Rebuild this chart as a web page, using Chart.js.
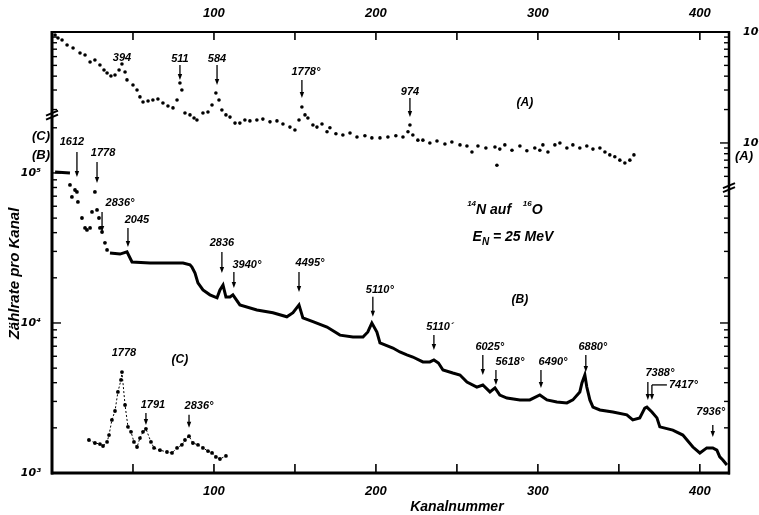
<!DOCTYPE html>
<html>
<head>
<meta charset="utf-8">
<title>14N auf 16O</title>
<script src="https://cdn.jsdelivr.net/npm/chart.js@4.4.1/dist/chart.umd.min.js"></script>
<style>
  html, body { margin: 0; padding: 0; background: #fff; }
  #myChart { display: block; }
</style>
</head>
<body>
<canvas id="myChart" width="759" height="515"></canvas>
<script>
// Spektrum A (rechte Skala oben), [Kanal, Zaehlrate]
var spektrumA = [
  [1.9,940],[3.7,883],[6.2,847],[9.3,764],[13,718],[17.3,647],[20.4,621],[23.5,537],[26.5,560],[29.6,504],
  [32.1,455],[34,427],[36.4,401],[38.9,410],[41.4,455],[43.2,515],[45.1,436],[46.3,370],[50,333],[52.5,300],
  [54.3,260],[56.2,234],[59.3,239],[62.3,244],[65.4,249],[68.5,229],[71.6,215],[74.7,207],[77.2,244],[79,347],
  [80.2,300],[82.1,186],[85.2,179],[87.7,168],[89.5,161],[93.2,186],[96.3,190],[98.8,220],[101.2,282],[103.1,244],
  [104.9,198],[107.4,179],[109.9,171],[113,151],[116,151],[119.1,161],[122.2,158],[126.5,161],[130.2,164],[134.6,155],
  [138.9,158],[142.6,148],[146.9,139],[150,131],[152.5,161],[154.3,211],[156.2,179],[158,168],[161.1,145],[163.6,139],
  [166.7,148],[169.8,126],[171.6,137],[175.3,121],[179.6,118],[184,123],[188.3,113],[193.2,116],[197.5,111],[202.5,111],
  [207.4,113],[212.3,116],[216.7,113],[219.8,126],[221,145],[222.8,118],[225.9,106],[229,106],[233.3,100],[237.7,104],
  [242.6,98],[246.9,102],[251.9,96],[256.2,94],[259.3,83],[263,94],[267.9,90],[273.5,92],[274.7,63],[276.5,88],
  [279.6,96],[284,86],[288.9,94],[293.2,85],[298.1,90],[301.2,86],[303.1,96],[306.2,83],[310.5,96],[313.6,100],
  [317.9,90],[321.6,96],[325.9,90],[330.2,94],[334,88],[338.3,90],[341.4,83],[344.4,78],[347.5,75],[350.6,70],
  [353.7,66],[356.8,70],[359.3,78]
];

// Spektrum B (linke Skala), Anfang oberhalb 10^5
var spektrumBAnfang = [[1.9,101600],[11.1,100000]];

// Spektrum B, Einzelpunkte am Anfang
var spektrumBStreu = [
  [11.1,83200],[12.3,69200],[14.2,77000],[15.4,74700],[16,64100],[18.5,50100],[20.4,43000],[21.6,41700],
  [23.5,43000],[24.7,55000],[26.5,74700],[27.8,56700],[29,50100],[29.6,43000],[30.9,40400],[32.7,34200],[34,30700]
];

// Spektrum B, durchgehende Kurve
var spektrumB = [
  [35.8,29300],[42,28800],[46.3,29800],[49.4,25500],[60.5,25100],[71,25100],[80.9,25100],[85.2,24400],[86.4,23600],
  [88.3,21500],[90.1,18500],[93.2,16600],[97.5,15400],[101.9,14700],[103.7,16600],[105.6,17900],[107.4,14900],
  [109.9,14900],[111.7,15400],[116,13200],[126.5,12200],[136.4,11700],[145,11000],[148.8,11700],[152.5,13200],
  [154.9,10800],[161.1,10200],[169.8,9400],[177.8,8300],[185.8,8070],[192,8070],[195,8710],[197.5,10000],
  [200.6,8710],[202.5,7360],[210.5,6810],[214.8,6410],[219.1,6120],[222.8,5930],[229,5500],[233.3,5500],
  [235.8,5670],[238.6,5410],[241.4,4860],[247.5,4640],[251.9,4500],[256.2,4040],[262.3,3740],[266,3860],
  [270.4,3470],[273.5,3690],[276.5,3310],[280.9,3160],[288.9,3070],[295,3070],[301.2,3310],[305.6,3070],
  [311.7,2970],[317.9,2930],[321.6,3070],[325.9,3470],[327.2,3980],[329,4500],[330.2,3740],[332.1,3070],
  [334,2750],[338.3,2630],[346.3,2550],[354.9,2440],[358.6,2260],[362.9,2330],[366,2710],[367.3,2750],
  [370.4,2550],[373.5,2330],[375.3,2030],[383.3,1930],[389.5,1790],[395.7,1490],[400,1360],[404.3,1470],
  [408,1470],[410.5,1420],[412.3,1280],[414.2,1220],[416.7,1130]
];

// Spektrum C (linke Skala)
var spektrumC = [
  [22.8,1660],[26.5,1585],[29.6,1560],[31.5,1514],[34,1610],[35.2,1790],[37,2260],[38.9,2590],[40.7,3470],
  [42.6,4170],[43.2,4710],[45.1,2840],[46.9,2030],[48.8,1880],[50.6,1610],[52.5,1490],[54.3,1710],[56.2,1880],
  [58,1970],[61.1,1610],[63,1470],[66.7,1420],[71,1380],[74.1,1360],[77.2,1470],[80.2,1540],[82.1,1660],
  [84.6,1760],[87,1585],[90.1,1540],[93.2,1470],[96.3,1400],[98.8,1360],[101.2,1280],[103.7,1240],[107.4,1300]
];

// Achsen
var kanalLabels = [100, 200, 300, 400];
var kanalStriche = [50, 100, 150, 200, 250, 300, 350, 400];
var dekadenBC = [1000, 10000, 100000];
var dekadenA = [100, 1000];
var hochZahl = {2: '\u00b2', 3: '\u00b3', 4: '\u2074', 5: '\u2075'};

// Peak-Beschriftungen: Kanal, Zaehlrate an der Pfeilspitze
var markenA = [
  {t: '394', k: 43.2, w: 515, len: 0, dx: 0, dy: 6},
  {t: '511', k: 79, w: 370, len: 15, dx: 0, dy: 6},
  {t: '584', k: 101.9, w: 333, len: 20, dx: 0, dy: 6},
  {t: '1778\u00b0', k: 154.3, w: 254, len: 18, dx: 4, dy: 8},
  {t: '974', k: 221, w: 171, len: 19, dx: 0, dy: 6}
];
var markenB = [
  {t: '1612', k: 15.4, w: 94000, len: 25, dx: -5, dy: 10},
  {t: '1778', k: 27.8, w: 85800, len: 21, dx: 6, dy: 9},
  {t: '2836\u00b0', k: 30.9, w: 40400, len: 20, dx: 18, dy: 9},
  {t: '2045', k: 46.9, w: 32100, len: 19, dx: 9, dy: 8},
  {t: '2836', k: 104.9, w: 21500, len: 21, dx: 0, dy: 9},
  {t: '3940\u00b0', k: 112.3, w: 17100, len: 16, dx: 13, dy: 7},
  {t: '4495\u00b0', k: 152.5, w: 16100, len: 20, dx: 11, dy: 9},
  {t: '5110\u00b0', k: 198.1, w: 11000, len: 20, dx: 7, dy: 7},
  {t: '5110\u00b4', k: 235.8, w: 6610, len: 15, dx: 6, dy: 8},
  {t: '6025\u00b0', k: 266, w: 4500, len: 20, dx: 7, dy: 8},
  {t: '5618\u00b0', k: 274.1, w: 3860, len: 15, dx: 14, dy: 8},
  {t: '6490\u00b0', k: 301.9, w: 3690, len: 18, dx: 12, dy: 8},
  {t: '6880\u00b0', k: 329.6, w: 4710, len: 17, dx: 7, dy: 8},
  {t: '7388\u00b0', k: 367.9, w: 3070, len: 18, dx: 12, dy: 9},
  {t: '', k: 370.4, w: 3070, len: 15, dx: 0, dy: 0},
  {t: '7936\u00b0', k: 408, w: 1740, len: 12, dx: -2, dy: 13},
  {t: '1778', k: 43.2, w: 4710, len: 0, dx: 2, dy: 19},
  {t: '1791', k: 58, w: 2090, len: 12, dx: 7, dy: 8},
  {t: '2836\u00b0', k: 84.6, w: 2000, len: 13, dx: 10, dy: 9}
];

var SCHRIFT = '"Liberation Sans", Arial, sans-serif';
var SCHRIFT_SCHMAL = '"Liberation Sans Narrow", "Liberation Sans", sans-serif';
var SCHRIFT_HOCH = '"DejaVu Sans", sans-serif';
function fnt(px, fam) { return 'italic bold ' + px + 'px ' + (fam || SCHRIFT); }
function punkte(liste) { return liste.map(function (p) { return {x: p[0], y: p[1]}; }); }
function zehnHoch(v) { return '10' + hochZahl[Math.round(Math.log10(v))]; }

function linie(ctx, x1, y1, x2, y2) {
  ctx.beginPath(); ctx.moveTo(x1, y1); ctx.lineTo(x2, y2); ctx.stroke();
}

function pfeil(ctx, px, spitze, laenge) {
  if (laenge <= 0) return;
  ctx.lineWidth = 1.3;
  linie(ctx, px, spitze - laenge, px, spitze - 4);
  ctx.beginPath();
  ctx.moveTo(px - 2.2, spitze - 6); ctx.lineTo(px + 2.2, spitze - 6); ctx.lineTo(px, spitze);
  ctx.closePath(); ctx.fill();
}

function marken(ctx, liste, xs, ys) {
  ctx.font = fnt(11, SCHRIFT_SCHMAL);
  ctx.textAlign = 'center';
  ctx.textBaseline = 'middle';
  liste.forEach(function (m) {
    var px = xs.getPixelForValue(m.k), py = ys.getPixelForValue(m.w);
    pfeil(ctx, px, py, m.len);
    if (m.t) ctx.fillText(m.t, px + m.dx, py - m.len - m.dy);
  });
}

// Text aus Stuecken: [text, groesse, versatz]
function reihe(ctx, teile, cx, cy) {
  var breite = 0;
  teile.forEach(function (s) { ctx.font = fnt(s[1]); breite += ctx.measureText(s[0]).width; });
  var x0 = cx - breite / 2;
  ctx.textAlign = 'left';
  ctx.textBaseline = 'middle';
  teile.forEach(function (s) {
    ctx.font = fnt(s[1]);
    ctx.fillText(s[0], x0, cy + s[2]);
    x0 += ctx.measureText(s[0]).width;
  });
}

function bruch(ctx, px, py) {
  ctx.lineWidth = 2;
  linie(ctx, px - 6, py + 1, px + 6, py - 4);
  linie(ctx, px - 6, py + 5, px + 6, py);
}

var zeichnung = {
  id: 'zeichnung',
  afterDraw: function (chart) {
    var ctx = chart.ctx, ca = chart.chartArea;
    var x = chart.scales.x, y = chart.scales.y, ya = chart.scales.ya;
    var bruchL = ya.getPixelForValue(180), bruchR = ya.getPixelForValue(40);
    ctx.save();
    ctx.strokeStyle = '#000';
    ctx.fillStyle = '#000';

    // Rahmen
    ctx.lineWidth = 3; linie(ctx, ca.left, ca.top - 1, ca.left, ca.bottom + 1.5);
    ctx.lineWidth = 3; linie(ctx, ca.left - 1, ca.bottom, ca.right + 1, ca.bottom);
    ctx.lineWidth = 2.5; linie(ctx, ca.right, ca.top - 1, ca.right, ca.bottom + 1.5);
    ctx.lineWidth = 2; linie(ctx, ca.left, ca.top, ca.right + 1, ca.top);

    // Striche an Kanalachsen (nach innen)
    ctx.lineWidth = 1.6;
    kanalStriche.forEach(function (k) {
      var px = x.getPixelForValue(k);
      linie(ctx, px, ca.bottom, px, ca.bottom - 9);
      linie(ctx, px, ca.top, px, ca.top + 8);
    });

    // Striche links und rechts
    ctx.lineWidth = 1.4;
    dekadenBC.forEach(function (d) {
      for (var m = 1; m <= 9; m++) {
        var py = y.getPixelForValue(m * d);
        if (py > ca.bottom + 0.5) continue;
        var l = m === 1 ? 9 : 5;
        if (py > bruchL + 5) linie(ctx, ca.left, py, ca.left + l, py);
        if (py > bruchR + 6) linie(ctx, ca.right, py, ca.right - l, py);
      }
    });
    [10, 100, 1000].forEach(function (d) {
      for (var m = 1; m <= 9; m++) {
        var v = m * d;
        if (v < 50 || v > 1000) continue;
        var py = ya.getPixelForValue(v);
        var l = m === 1 ? 9 : 5;
        if (v >= 200 && py < bruchL - 4) linie(ctx, ca.left, py, ca.left + l, py);
        if (py < bruchR - 4) linie(ctx, ca.right, py, ca.right - l, py);
      }
    });
    bruch(ctx, ca.left, bruchL);
    bruch(ctx, ca.right, bruchR);

    // Peaks
    marken(ctx, markenA, x, ya);
    marken(ctx, markenB, x, y);

    // Klammer fuer 7417
    var p7 = x.getPixelForValue(370.4), q7 = y.getPixelForValue(3070) - 15;
    ctx.lineWidth = 1.3;
    linie(ctx, p7, q7, p7 + 15, q7);
    ctx.font = fnt(11, SCHRIFT_SCHMAL); ctx.textAlign = 'left'; ctx.textBaseline = 'middle';
    ctx.fillText('7417\u00b0', p7 + 17, q7);

    // Spektrennamen
    ctx.font = fnt(12); ctx.textAlign = 'center';
    ctx.fillText('(A)', x.getPixelForValue(292), ya.getPixelForValue(229));
    ctx.fillText('(B)', x.getPixelForValue(288.9), y.getPixelForValue(14200));
    ctx.fillText('(C)', x.getPixelForValue(79), y.getPixelForValue(5670));
    ctx.font = fnt(13);
    ctx.fillText('(C)', ca.left - 11, y.getPixelForValue(100000) - 37);
    ctx.fillText('(B)', ca.left - 11, y.getPixelForValue(100000) - 18);
    ctx.textAlign = 'left';
    ctx.fillText('(A)', ca.right + 6, ya.getPixelForValue(100) + 13);

    // Reaktion
    reihe(ctx, [['14', 8, -6], ['N auf   ', 14, 0], ['16', 8, -6], ['O', 14, 0]],
      x.getPixelForValue(279.6), y.getPixelForValue(56700));
    reihe(ctx, [['E', 14, 0], ['N', 10, 5], [' = 25 MeV', 14, 0]],
      x.getPixelForValue(284.6), y.getPixelForValue(37400));

    // Achsentitel
    ctx.font = fnt(14); ctx.textAlign = 'center'; ctx.textBaseline = 'middle';
    ctx.fillText('Kanalnummer', x.getPixelForValue(250), ca.bottom + 34);
    ctx.font = fnt(15);
    ctx.translate(15, (ca.top + ca.bottom) / 2 + 21);
    ctx.rotate(-Math.PI / 2);
    ctx.fillText('Z\u00e4hlrate pro Kanal', 0, 0);
    ctx.restore();
  }
};

function kanalAchse(pos, hoehe, abstand) {
  return {
    type: 'linear', position: pos, min: 0, max: 418,
    grid: {display: false}, border: {display: false},
    afterFit: function (s) { s.height = hoehe; },
    afterBuildTicks: function (s) { s.ticks = kanalLabels.map(function (v) { return {value: v}; }); },
    ticks: {autoSkip: false, maxRotation: 0, minRotation: 0, padding: abstand, color: '#000',
      font: {family: SCHRIFT, size: 13, style: 'italic', weight: 'bold'},
      callback: function (v) { return String(v); }}
  };
}

function logAchse(pos, breite, min, max, dekaden, abstand) {
  return {
    type: 'logarithmic', position: pos, min: min, max: max,
    grid: {display: false}, border: {display: false},
    afterFit: function (s) { s.width = breite; },
    afterBuildTicks: function (s) { s.ticks = dekaden.map(function (v) { return {value: v}; }); },
    ticks: {autoSkip: false, padding: abstand, color: '#000',
      font: {family: SCHRIFT_HOCH, size: 11, style: 'italic', weight: 'bold'},
      callback: function (v) { return zehnHoch(v); }}
  };
}

var ctx = document.getElementById('myChart').getContext('2d');
var myChart = new Chart(ctx, {
  type: 'scatter',
  data: {
    datasets: [
      {label: 'A', data: punkte(spektrumA), yAxisID: 'ya', showLine: false,
        pointRadius: 1.8, pointBackgroundColor: '#000', pointBorderWidth: 0},
      {label: 'B Anfang', data: punkte(spektrumBAnfang), yAxisID: 'y', showLine: true,
        borderColor: '#000', borderWidth: 3, pointRadius: 0},
      {label: 'B Punkte', data: punkte(spektrumBStreu), yAxisID: 'y', showLine: false,
        pointRadius: 1.9, pointBackgroundColor: '#000', pointBorderWidth: 0},
      {label: 'B', data: punkte(spektrumB), yAxisID: 'y', showLine: true,
        borderColor: '#000', borderWidth: 3, pointRadius: 0},
      {label: 'C', data: punkte(spektrumC), yAxisID: 'y', showLine: true,
        borderColor: '#000', borderWidth: 1, borderDash: [2, 2],
        pointRadius: 1.9, pointBackgroundColor: '#000', pointBorderWidth: 0}
    ]
  },
  options: {
    responsive: false,
    animation: false,
    events: [],
    layout: {padding: 0},
    plugins: {legend: {display: false}, tooltip: {enabled: false}},
    scales: {
      x: kanalAchse('bottom', 42, 3),
      x2: kanalAchse('top', 32, 3),
      y: logAchse('left', 52, 1000, 870000, dekadenBC, 3),
      ya: logAchse('right', 30, 0.106, 1000, dekadenA, 6)
    }
  },
  plugins: [zeichnung]
});
</script>
</body>
</html>
